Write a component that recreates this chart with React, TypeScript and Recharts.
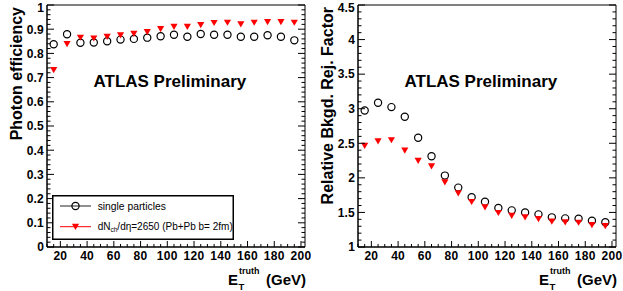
import { ComposedChart, Scatter, XAxis, YAxis, ReferenceArea, Legend } from 'recharts'

const FONT = '"Liberation Sans", Arial, Helvetica, sans-serif'

// bin centres in GeV
const energies = [15, 25, 35, 45, 55, 65, 75, 85, 95, 105, 115, 125, 135, 145, 155, 165, 175, 185, 195]

const effSingle = [0.838, 0.879, 0.844, 0.845, 0.85, 0.857, 0.86, 0.865, 0.871, 0.877, 0.869, 0.88, 0.877, 0.877, 0.869, 0.869, 0.875, 0.869, 0.854]
const effPbPb = [0.731, 0.839, 0.865, 0.862, 0.869, 0.875, 0.881, 0.888, 0.901, 0.91, 0.91, 0.917, 0.926, 0.927, 0.92, 0.927, 0.93, 0.93, 0.927]

const rejSingle = [2.975, 3.087, 3.023, 2.884, 2.58, 2.313, 2.033, 1.859, 1.719, 1.656, 1.565, 1.53, 1.5, 1.472, 1.429, 1.414, 1.41, 1.381, 1.357]
const rejPbPb = [2.463, 2.53, 2.545, 2.396, 2.246, 2.168, 1.937, 1.777, 1.652, 1.574, 1.493, 1.453, 1.429, 1.406, 1.367, 1.357, 1.352, 1.319, 1.304]

const seriesNames = ['single particles', 'dN_ch/dη=2650 (Pb+Pb b= 2fm)']

const xMajorTicks = [20, 40, 60, 80, 100, 120, 140, 160, 180, 200]
const effMajorTicks = [0, 0.1, 0.2, 0.3, 0.4, 0.5, 0.6, 0.7, 0.8, 0.9, 1]
const rejMajorTicks = [1, 1.5, 2, 2.5, 3, 3.5, 4, 4.5]

const X_DOMAIN: [number, number] = [10, 203]

const steps = (from: number, to: number, step: number) => {
  const out: number[] = []
  for (let v = from; v <= to + 1e-9; v += step) out.push(Math.round(v * 1000) / 1000)
  return out
}
const xTicks = steps(10, 200, 5)
const effTicks = steps(0, 1, 0.02)
const rejTicks = steps(1, 4.5, 0.1)

const isMajor = (v: number, majors: number[]) => majors.some((m) => Math.abs(m - v) < 1e-6)

const toPoints = (vals: number[]) => energies.map((e, i) => ({ e, v: vals[i] }))

const OpenCircle = (props: any) => {
  const { cx, cy } = props
  return <circle cx={cx} cy={cy} r={3.6} fill="none" stroke="#000" strokeWidth={1.2} />
}

const DownTriangle = (props: any) => {
  const { cx, cy } = props
  return <polygon points={`${cx - 3.6},${cy - 3} ${cx + 3.6},${cy - 3} ${cx},${cy + 3.2}`} fill="#ff0000" />
}

const XTick = (props: any) => {
  const { x, y, payload } = props
  const major = isMajor(payload.value, xMajorTicks)
  return (
    <g>
      <line x1={x} x2={x} y1={y} y2={y - (major ? 6 : 3)} stroke="#000" strokeWidth={1} />
      {major && (
        <text x={x} y={y + 12.5} textAnchor="middle" fontFamily={FONT} fontWeight="bold" fontSize={12} letterSpacing={0.3} fill="#000">
          {payload.value}
        </text>
      )}
    </g>
  )
}

const makeYTick = (majors: number[], plotRight: number) => (props: any) => {
  const { x, y, payload } = props
  const major = isMajor(payload.value, majors)
  const len = major ? 7 : 3.5
  // the topmost label is pushed down a little so it stays inside the page
  const textY = Math.max(y + 4.3, 11.7)
  return (
    <g>
      <line x1={x} x2={x + len} y1={y} y2={y} stroke="#000" strokeWidth={1} />
      <line x1={plotRight} x2={plotRight - len} y1={y} y2={y} stroke="#000" strokeWidth={1} />
      {major && (
        <text x={x - 3} y={textY} textAnchor="end" fontFamily={FONT} fontWeight="bold" fontSize={12} letterSpacing={0.2} fill="#000">
          {String(Math.round(payload.value * 10) / 10)}
        </text>
      )}
    </g>
  )
}

const XTitle = (props: any) => {
  const { viewBox } = props
  const right = viewBox.x + viewBox.width
  const base = viewBox.y + 38
  return (
    <text fontFamily={FONT} fontWeight="bold" fill="#000">
      <tspan x={right - 77} y={base} fontSize={15}>E</tspan>
      <tspan x={right - 66.5} y={base + 5} fontSize={9.5}>T</tspan>
      <tspan x={right - 66} y={base - 11} fontSize={9}>truth</tspan>
      <tspan x={right - 39} y={base} fontSize={15}>(GeV)</tspan>
    </text>
  )
}

const yTitle = (text: string) => () => (
  <text
    x={22}
    y={7}
    transform="rotate(-90 22 7)"
    textAnchor="end"
    fontFamily={FONT}
    fontWeight="bold"
    fontSize={16}
    fill="#000"
  >
    {text}
  </text>
)

const AtlasLabel = (props: any) => {
  const { viewBox } = props
  return (
    <text x={viewBox.x + 46.5} y={viewBox.y + 82.3} fontFamily={FONT} fontWeight="bold" fontSize={17} fill="#000">
      ATLAS Preliminary
    </text>
  )
}

const LegendBox = () => (
  <svg width={182} height={45} style={{ display: 'block', overflow: 'visible' }}>
    <rect x={0.75} y={0.75} width={180.5} height={43.5} fill="#fff" stroke="#000" strokeWidth={1.5} />
    <line x1={8} x2={39} y1={11} y2={11} stroke="#222" strokeWidth={1} />
    <OpenCircle cx={23.5} cy={11} />
    <text x={45.7} y={14.5} fontFamily={FONT} fontSize={10.3} fill="#000">{seriesNames[0]}</text>
    <line x1={8} x2={39} y1={31.7} y2={31.7} stroke="#ff0000" strokeWidth={1} />
    <DownTriangle cx={23.5} cy={31.7} />
    <text x={45.7} y={35.2} fontFamily={FONT} fontSize={10} fill="#000">
      dN<tspan fontSize={6.5} dy={2}>ch</tspan>
      <tspan dy={-2}>{seriesNames[1].slice(5)}</tspan>
    </text>
  </svg>
)

interface PanelProps {
  readonly width: number
  readonly single: number[]
  readonly pbpb: number[]
  readonly yDomain: [number, number]
  readonly yTicks: number[]
  readonly yMajors: number[]
  readonly yLabel: string
  readonly showLegend?: boolean
}

const Panel = ({ width, single, pbpb, yDomain, yTicks, yMajors, yLabel, showLegend }: PanelProps) => {
  const margin = { top: 5, right: width - 47 - 258, bottom: 0, left: 0 }
  const plotRight = width - margin.right
  return (
    <ComposedChart width={width} height={291} margin={margin}>
      <XAxis
        type="number"
        dataKey="e"
        domain={X_DOMAIN}
        allowDataOverflow
        ticks={xTicks}
        interval={0}
        tickLine={false}
        tickSize={0}
        tickMargin={0}
        height={44}
        axisLine={{ stroke: '#000' }}
        tick={XTick}
        label={{ content: XTitle }}
      />
      <YAxis
        type="number"
        dataKey="v"
        domain={yDomain}
        allowDataOverflow
        ticks={yTicks}
        interval={0}
        tickLine={false}
        tickSize={0}
        tickMargin={0}
        width={47}
        axisLine={{ stroke: '#000' }}
        tick={makeYTick(yMajors, plotRight)}
        label={{ content: yTitle(yLabel) }}
      />
      <ReferenceArea
        x1={X_DOMAIN[0]}
        x2={X_DOMAIN[1]}
        y1={yDomain[0]}
        y2={yDomain[1]}
        fill="none"
        stroke="#000"
        strokeWidth={1}
        label={{ content: AtlasLabel }}
      />
      <Scatter name={seriesNames[0]} data={toPoints(single)} shape={OpenCircle} isAnimationActive={false} />
      <Scatter name={seriesNames[1]} data={toPoints(pbpb)} shape={DownTriangle} isAnimationActive={false} />
      {showLegend && (
        <Legend
          layout="vertical"
          align="center"
          verticalAlign="middle"
          wrapperStyle={{ left: 52, top: 195, width: 182, height: 45 }}
          content={LegendBox}
        />
      )}
    </ComposedChart>
  )
}

export default function App() {
  return (
    <div style={{ position: 'absolute', left: 0, top: 0, width: 623, height: 291, background: '#fff' }}>
      <div style={{ position: 'absolute', left: 0, top: 0 }}>
        <Panel
          width={311}
          single={effSingle}
          pbpb={effPbPb}
          yDomain={[0, 1]}
          yTicks={effTicks}
          yMajors={effMajorTicks}
          yLabel="Photon efficiency"
          showLegend
        />
      </div>
      <div style={{ position: 'absolute', left: 311, top: 0 }}>
        <Panel
          width={312}
          single={rejSingle}
          pbpb={rejPbPb}
          yDomain={[1, 4.5]}
          yTicks={rejTicks}
          yMajors={rejMajorTicks}
          yLabel="Relative Bkgd. Rej. Factor"
        />
      </div>
    </div>
  )
}
